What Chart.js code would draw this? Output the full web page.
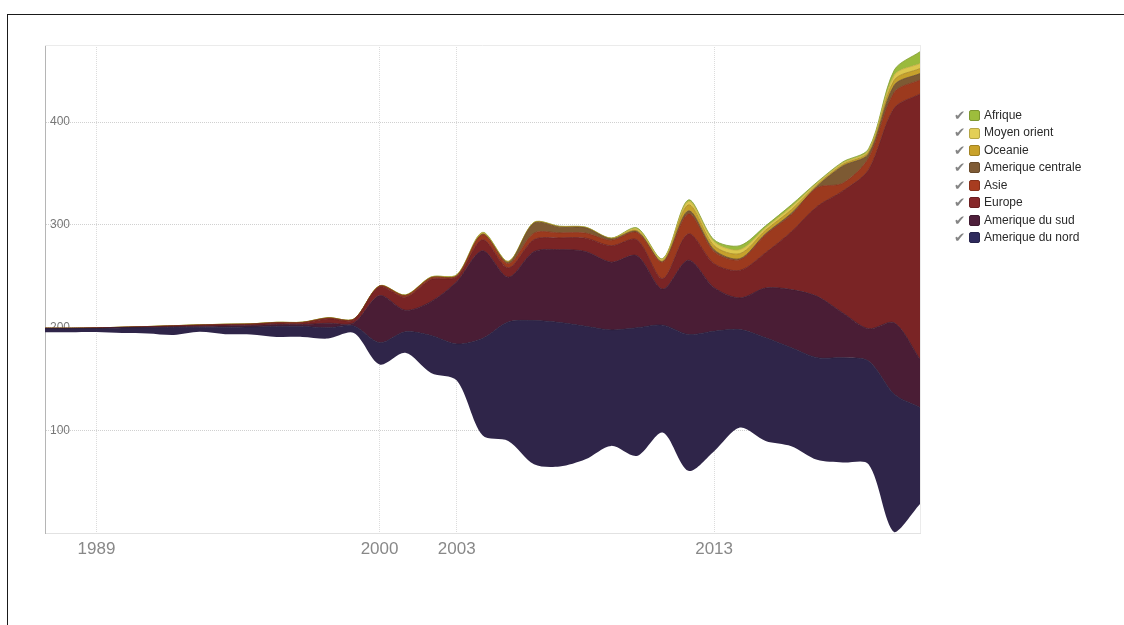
<!DOCTYPE html>
<html>
<head>
<meta charset="utf-8">
<script src="https://cdn.jsdelivr.net/npm/chart.js@4.4.1/dist/chart.umd.min.js"></script>
<style>
  html, body { margin: 0; padding: 0; background: #fff; width: 1124px; height: 625px; overflow: hidden; }
  #frame { position: absolute; left: 7px; top: 14px; width: 1200px; height: 700px; border-left: 1px solid #1a1a1a; border-top: 1px solid #1a1a1a; }
  #c { position: absolute; left: 0; top: 0; }
  #legend { position: absolute; left: 954px; top: 107px; font-family: "Liberation Sans", Arial, Helvetica, sans-serif; font-size: 12px; color: #2a2a2a; }
  .row { height: 17.43px; line-height: 17.43px; white-space: nowrap; display: flex; align-items: center; }
  .chk { color: #858585; font-family: "DejaVu Sans", sans-serif; font-size: 13.5px; width: 15px; }
  .sw { width: 11px; height: 11px; border-radius: 2px; margin-right: 4px; box-sizing: border-box; }
</style>
</head>
<body>
<div id="frame"></div>
<canvas id="c" width="1124" height="625"></canvas>
<div id="legend"></div>
<script>
// ---- data ----
const years = [1987,1988,1989,1990,1991,1992,1993,1994,1995,1996,1997,1998,1999,
               2000,2001,2002,2003,2004,2005,2006,2007,2008,2009,2010,2011,2012,2013,2014,2015,2016,2017,2018,2019,2020,2021];

// stream baseline (bottom edge of the stream)
const baseline = [195.4,195.4,195.6,194.7,194.2,192.7,195.8,193.5,193.2,190.9,190.9,189.3,194.7,
                  164.1,175.4,155.8,148.5,95.1,89.6,67,64.8,71.8,84.8,75,97.8,60.5,79.6,102.6,89.6,84.5,71.2,68.6,67,0.7,28.2];

const amNord = [3.5,3.5,3.4,4.9,5.5,7.3,4.4,6.8,7.3,10.2,10.2,10.4,6.8,
                21.1,20.4,36.4,35.4,94.2,115.7,139.8,140.1,129.4,112.8,124.7,104.5,132.7,116.8,95.4,100.4,95.8,99.4,101.9,100.3,134.3,93.9];
const amSud = [0.2,0.2,0.3,0.3,0.6,0.8,1.1,1.3,1.4,1.8,1.8,4.5,3.0,
               45.9,21,33,60.7,85.4,43.7,67,70.9,72.8,66,70.2,35.1,72.3,42.4,30.8,48.5,56.6,59.8,43.7,31.5,69.6,46.9];
const europe = [0.1,0.1,0.2,0.2,0.4,0.6,0.8,1.0,1.1,1.4,1.4,4.2,2.9,
                8.3,12.6,21.5,4.5,10.7,9.2,11.7,11.4,13,16,15.5,10.2,25.7,23.3,26.8,34.3,56.3,87.4,118.7,154.7,209,258.3];
const asie = [0.1,0.1,0.1,0.1,0.1,0.2,0.2,0.3,0.3,0.4,0.5,0.6,0.6,
              0.8,1.5,1.5,1,4.9,3.9,6.3,4.9,4.9,5.3,7.1,16,19.4,11.7,10.4,17.5,16.5,18.2,7.5,11.4,15.5,13.6];
const amCentrale = [0,0,0.1,0.1,0.1,0.1,0.2,0.2,0.2,0.2,0.2,0.3,0.1,
                    0.2,0.3,0.3,0.3,0.5,1.3,9.7,5.6,5.1,1.3,1,0.5,2.9,1.9,1,1,1.5,1.5,16.8,4,6.8,6.3];
const oceanie = [0,0,0,0,0.1,0.1,0.1,0.1,0.1,0.1,0.1,0.2,0.1,
                 0.2,0.2,0.3,0.3,0.5,0.4,0.4,0.4,0.3,0.4,1,1,5.8,3.9,4.9,3.4,3.4,1.5,1.5,1.9,4.9,4.9];
const moyenOrient = [0,0,0,0,0,0,0,0,0,0.1,0.1,0.1,0.1,
                     0.1,0.2,0.3,0.5,1,0.5,0.3,0.3,0.3,0.3,1.5,1.5,3.4,3.9,3.9,2.4,2.9,1.5,1.5,1.5,4.9,4.9];
const afrique = [0,0,0,0,0,0,0,0,0,0,0,0,0,
                 0,0.1,0.1,0.2,0.3,0.2,0.2,0.2,0.2,0.2,1,0.5,1.5,1.9,3.9,1.9,1.9,1,1,1.5,4.9,11.5];

const seriesNames = ["Amerique du nord","Amerique du sud","Europe","Asie","Amerique centrale","Oceanie","Moyen orient","Afrique"];
const seriesValues = [amNord, amSud, europe, asie, amCentrale, oceanie, moyenOrient, afrique];
const seriesColors = ["#2f2549","#4a1d35","#7a2425","#9c3a1e","#7d5a33","#c6a12c","#dcc74d","#9aba3c"];
const legendColors = ["#2e2a5c","#4e1f3b","#872729","#a83c20","#7f5b35","#c9a22a","#e3cf57","#9dbd3c"];

const xTicks = [1989, 2000, 2003, 2013];
const yTicks = [100, 200, 300, 400];

// ---- build chart ----
function pts(arr) { return years.map((yr, i) => ({ x: yr, y: arr[i] })); }

function darker(hex, f) {
  const n = parseInt(hex.slice(1), 16);
  const r = Math.round(((n >> 16) & 255) * f), g = Math.round(((n >> 8) & 255) * f), b = Math.round((n & 255) * f);
  return `rgb(${r},${g},${b})`;
}

const datasets = [{
  label: "_base",
  data: pts(baseline),
  borderWidth: 0,
  borderColor: "rgba(0,0,0,0)",
  backgroundColor: "rgba(0,0,0,0)",
  pointRadius: 0,
  fill: false,
  tension: 0.3
}];
seriesNames.forEach((name, k) => {
  datasets.push({
    label: name,
    data: pts(seriesValues[k]),
    backgroundColor: seriesColors[k],
    borderColor: darker(seriesColors[k], 0.85),
    borderWidth: 0.8,
    pointRadius: 0,
    fill: "-1",
    tension: 0.3
  });
});

const frameLines = {
  id: "frameLines",
  beforeDatasetsDraw(chart) {
    const { ctx, chartArea: a } = chart;
    ctx.save();
    ctx.strokeStyle = "#ebebeb";
    ctx.lineWidth = 1;
    ctx.beginPath();
    ctx.moveTo(a.left, a.top + 0.5); ctx.lineTo(a.right, a.top + 0.5);
    ctx.moveTo(a.right + 0.5, a.top); ctx.lineTo(a.right + 0.5, a.bottom);
    ctx.stroke();
    ctx.restore();
  }
};

new Chart(document.getElementById("c"), {
  type: "line",
  data: { datasets },
  plugins: [frameLines],
  options: {
    responsive: false,
    animation: false,
    devicePixelRatio: 1,
    layout: { padding: { left: 45, top: 45, right: 204, bottom: 52 } },
    plugins: { legend: { display: false }, tooltip: { enabled: false } },
    scales: {
      x: {
        type: "linear",
        min: years[0],
        max: years[years.length - 1],
        afterBuildTicks: s => { s.ticks = xTicks.map(v => ({ value: v })); },
        afterFit: s => { s.height = 40; },
        grid: { color: "#dcdcdc", drawTicks: false, lineWidth: 1 },
        border: { display: true, color: "#e2e2e2", dash: [1, 1] },
        ticks: {
          autoSkip: false, maxRotation: 0, padding: 6,
          color: "#888", font: { family: "'Liberation Sans', Arial, Helvetica, sans-serif", size: 17 },
          callback: v => String(v)
        }
      },
      y: {
        stacked: true,
        min: 0,
        max: 475,
        afterBuildTicks: s => { s.ticks = yTicks.map(v => ({ value: v })); },
        afterFit: s => { s.width = 0; },
        grid: { color: "#d0d0d0", drawTicks: false, lineWidth: 1 },
        border: { display: true, color: "#b5b5b5", dash: [1, 1] },
        ticks: {
          mirror: true, padding: 5,
          color: "#777", font: { family: "'Liberation Sans', Arial, Helvetica, sans-serif", size: 12 }
        }
      }
    }
  }
});

// ---- HTML legend (top layer first, as in the reference) ----
const lg = document.getElementById("legend");
for (let k = seriesNames.length - 1; k >= 0; k--) {
  const row = document.createElement("div");
  row.className = "row";
  row.innerHTML = `<span class="chk">\u2714</span><span class="sw" style="background:${legendColors[k]};border:1px solid ${darker(legendColors[k], 0.8)}"></span><span>${seriesNames[k]}</span>`;
  lg.appendChild(row);
}
</script>
</body>
</html>
